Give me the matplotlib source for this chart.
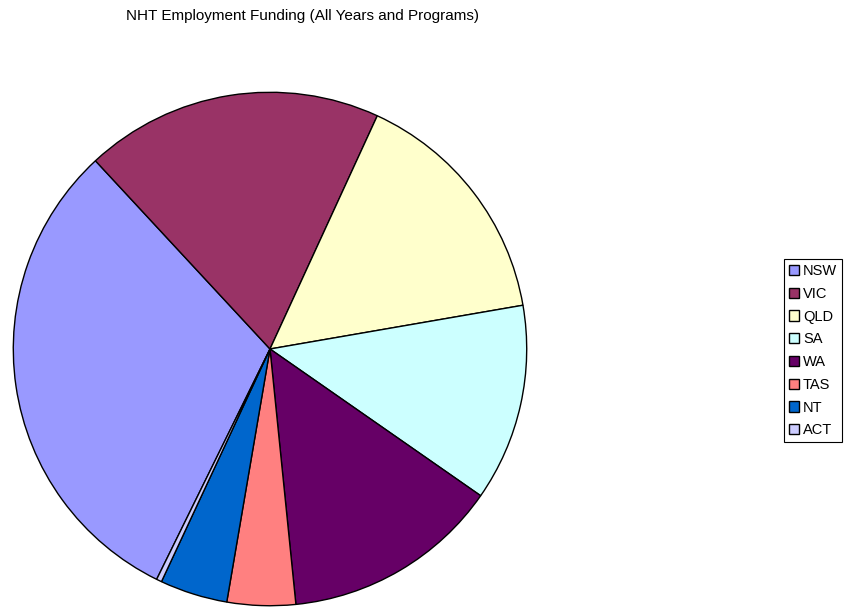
import matplotlib
matplotlib.use("Agg")
import matplotlib.pyplot as plt

# NHT employment funding share by state/territory (percent of total)
states = ["NSW", "VIC", "QLD", "SA", "WA", "TAS", "NT", "ACT"]
funding_share = [30.8, 18.75, 15.4, 12.4, 13.7, 4.3, 4.25, 0.33]
colors = ["#9999FF", "#993366", "#FFFFCC", "#CCFFFF", "#660066",
          "#FF8080", "#0066CC", "#CCCCFF"]

plt.rcParams["font.family"] = ["Liberation Sans", "DejaVu Sans"]

W, H, DPI = 844, 610, 100
fig = plt.figure(figsize=(W / DPI, H / DPI), dpi=DPI)

cx, cy, r = 270, 349, 258
ax = fig.add_axes([(cx - r) / W, (H - cy - r) / H, 2 * r / W, 2 * r / H])
wedges, _ = ax.pie(funding_share, colors=colors, startangle=243.8,
                   counterclock=False, radius=1.0,
                   wedgeprops=dict(edgecolor="black", linewidth=1.0))
ax.set_xlim(-1.005, 1.005)
ax.set_ylim(-1.005, 1.005)
ax.set_aspect("equal")
ax.axis("off")

fig.text(302 / W, 1 - 16 / H, "NHT Employment Funding (All Years and Programs)",
         ha="center", va="center", fontsize=11)

leg = fig.legend(wedges, states, loc="upper left",
                 bbox_to_anchor=(784 / W, 1 - 259 / H),
                 fontsize=10.5, frameon=True, fancybox=False,
                 edgecolor="black", framealpha=1,
                 handlelength=0.7, handleheight=0.7, handletextpad=0.25,
                 labelspacing=0.6, borderpad=0.35, borderaxespad=0)
leg.get_frame().set_linewidth(0.8)

fig.savefig("out.png", dpi=DPI)
